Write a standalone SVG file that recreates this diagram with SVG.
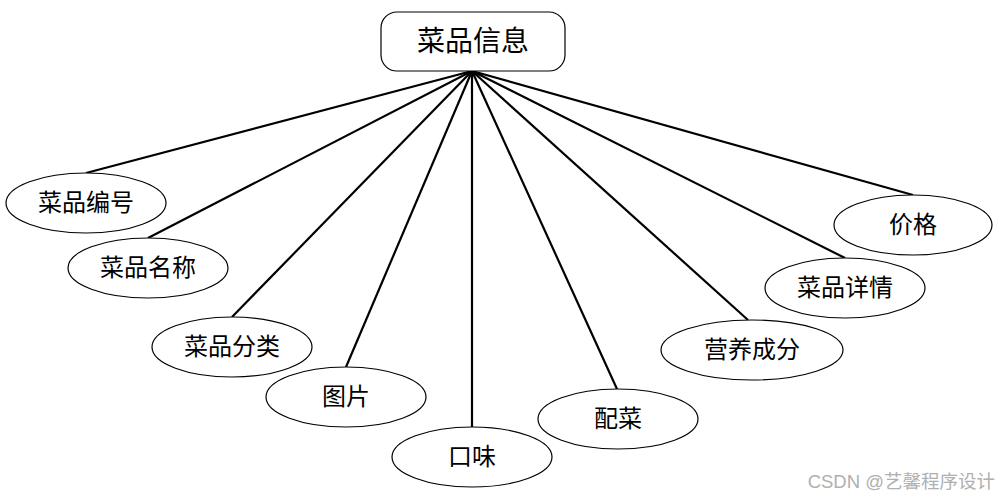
<svg xmlns="http://www.w3.org/2000/svg" width="1001" height="499" viewBox="0 0 1001 499">
<style>
.e{fill:#fff;stroke:#000;stroke-width:1.2}
.t{font-family:"Noto Sans CJK SC",sans-serif;font-size:24px;fill:#000;text-anchor:middle;dominant-baseline:central}
.c line{stroke:#000;stroke-width:2.2}
</style>
<rect width="1001" height="499" fill="#fff"/>
<g class="c" id="connectors">
<line x1="472" y1="71" x2="86" y2="173"/>
<line x1="472" y1="71" x2="148" y2="238"/>
<line x1="472" y1="71" x2="232" y2="317"/>
<line x1="472" y1="71" x2="346" y2="367"/>
<line x1="472" y1="71" x2="472" y2="427"/>
<line x1="472" y1="71" x2="617" y2="389"/>
<line x1="472" y1="71" x2="748" y2="320"/>
<line x1="472" y1="71" x2="845" y2="258"/>
<line x1="472" y1="71" x2="913" y2="195"/>
</g>
<g id="root"><rect x="381" y="12" width="184" height="59" rx="16" fill="#fff" stroke="#000" stroke-width="1.2"/><text class="t" x="473" y="39" style="font-size:28px">菜品信息</text></g>
<g id="n1"><ellipse class="e" cx="86" cy="203" rx="80" ry="30"/><text class="t" x="86" y="200">菜品编号</text></g>
<g id="n2"><ellipse class="e" cx="148" cy="268" rx="80" ry="30"/><text class="t" x="148" y="265">菜品名称</text></g>
<g id="n3"><ellipse class="e" cx="232" cy="347" rx="80" ry="30"/><text class="t" x="232" y="344">菜品分类</text></g>
<g id="n4"><ellipse class="e" cx="346" cy="397" rx="80" ry="30"/><text class="t" x="346" y="394">图片</text></g>
<g id="n5"><ellipse class="e" cx="472" cy="457" rx="80" ry="30"/><text class="t" x="472" y="454">口味</text></g>
<g id="n6"><ellipse class="e" cx="618" cy="419" rx="80" ry="30"/><text class="t" x="618" y="416">配菜</text></g>
<g id="n7"><ellipse class="e" cx="752" cy="350" rx="91" ry="30"/><text class="t" x="752" y="347">营养成分</text></g>
<g id="n8"><ellipse class="e" cx="845" cy="288" rx="80" ry="30"/><text class="t" x="845" y="285">菜品详情</text></g>
<g id="n9"><ellipse class="e" cx="913" cy="225" rx="79" ry="30"/><text class="t" x="913" y="222">价格</text></g>
<text x="995" y="488" font-family="'Liberation Sans','Noto Sans CJK SC',sans-serif" font-size="18.5" fill="#b0b0b0" text-anchor="end">CSDN @艺馨程序设计</text>
</svg>
